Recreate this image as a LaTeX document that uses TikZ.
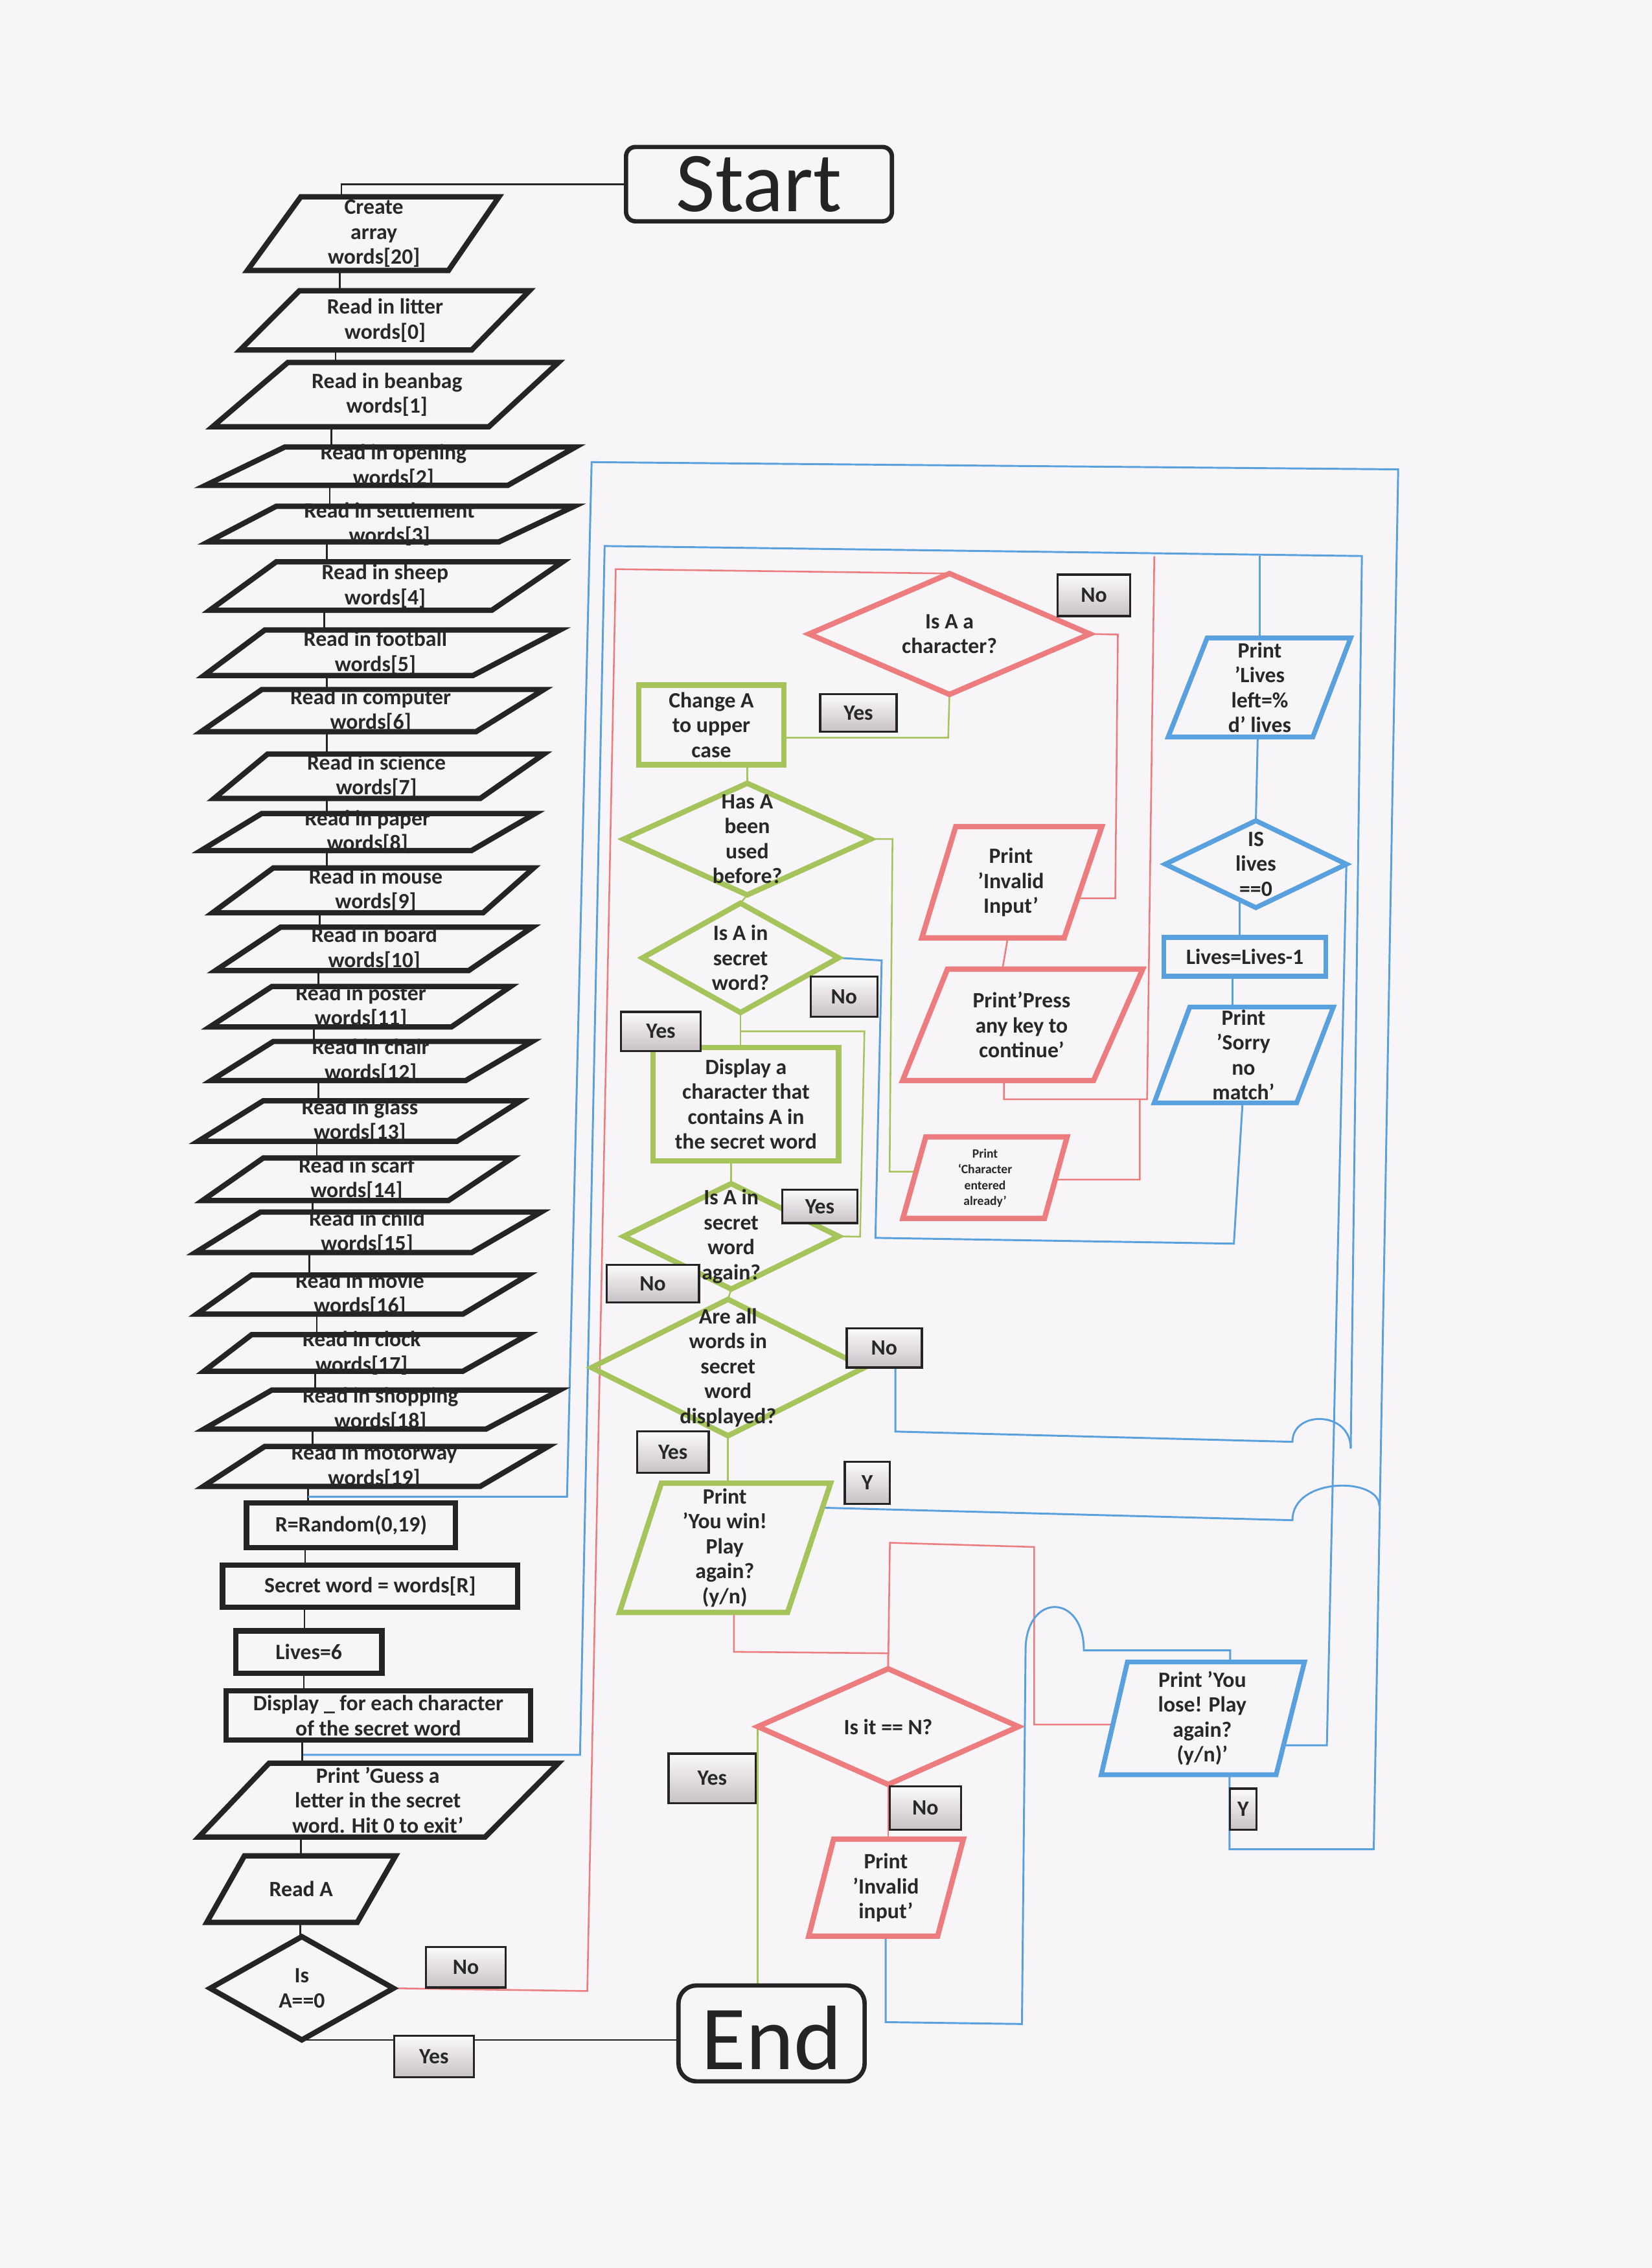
\documentclass[tikz,border=0pt]{standalone}
\usepackage{fontspec}
\setmainfont{Carlito}
\usetikzlibrary{shapes.geometric,calc}
\pgfdeclarelayer{paperl}
\pgfdeclarelayer{bg}
\pgfsetlayers{paperl,bg,main}
\definecolor{paper}{RGB}{247,245,247}
\definecolor{ink}{RGB}{36,36,36}
\definecolor{txtc}{RGB}{40,40,40}
\definecolor{rd}{RGB}{236,124,126}
\definecolor{gr}{RGB}{166,196,92}
\definecolor{bl}{RGB}{88,160,222}
\definecolor{lbtop}{RGB}{252,250,251}
\definecolor{lbbot}{RGB}{200,193,197}
\newcommand\UU{0.02cm}
\tikzset{
  blkshape/.style={draw=ink, line width=2.1pt},
  redshape/.style={draw=rd, line width=2.1pt},
  grnshape/.style={draw=gr, line width=2.1pt},
  blushape/.style={draw=bl, line width=1.9pt},
  blkline/.style={draw=ink, line width=0.7pt},
  redline/.style={draw=rd, line width=0.65pt},
  grnline/.style={draw=gr, line width=0.65pt},
  bluline/.style={draw=bl, line width=0.75pt},
  txt/.style={font=\fontsize{8.6}{9.8}\selectfont\bfseries, text=txtc, align=center, inner sep=0pt},
  anch/.style={inner sep=0pt, outer sep=0pt},
  lblbox/.style={draw=ink, line width=0.85pt, top color=lbtop, bottom color=lbbot,
    font=\fontsize{8.6}{9.8}\selectfont\bfseries, text=txtc, inner sep=0pt, outer sep=0pt},
  termbox/.style={draw=ink, line width=1.7pt, inner sep=0pt, outer sep=0pt}
}
% parallelogram: name, style, xTL, xTR, yT, xBL, xBR, yB, text
\newcommand\pgm[9]{%
  \draw[#2] (#3,#5) -- (#4,#5) -- (#7,#8) -- (#6,#8) -- cycle;
  \coordinate (#1-tl) at (#3,#5);
  \coordinate (#1-tr) at (#4,#5);
  \coordinate (#1-bl) at (#6,#8);
  \coordinate (#1-br) at (#7,#8);
  \node[anch, minimum width={(#4-#6)*\UU}, minimum height={(#8-#5)*\UU}] (#1) at ({(#4+#6)/2},{(#5+#8)/2}) {};
  \node[txt] (#1-t) at ({(#3+#4+#6+#7)/4},{(#5+#8)/2}) {#9};%
}
% rectangle: name, style, x1, x2, y1, y2, text
\newcommand\rbx[7]{%
  \node[#2, rectangle, anch, minimum width={(#4-#3)*\UU}, minimum height={(#6-#5)*\UU}] (#1) at ({(#3+#4)/2},{(#5+#6)/2}) {};
  \node[txt] (#1-t) at (#1.center) {#7};%
}
% diamond: name, style, xL, xR, yT, yB, text
\newcommand\dmd[7]{%
  \node[#2, diamond, anch, minimum width={(#4-#3)*\UU}, minimum height={(#6-#5)*\UU}] (#1) at ({(#3+#4)/2},{(#5+#6)/2}) {};
  \node[txt] (#1-t) at (#1.center) {#7};%
}
% label box: name, x1, x2, y1, y2, text
\newcommand\lbl[6]{%
  \node[lblbox, minimum width={(#3-#2)*\UU}, minimum height={(#5-#4)*\UU}] (#1) at ({(#2+#3)/2},{(#4+#5)/2}) {#6};%
}
\begin{document}
\begin{tikzpicture}[x=0.02cm, y=-0.02cm]
\begin{pgfonlayer}{paperl}
  \fill[paper] (0,0) rectangle (1142,1568);
\end{pgfonlayer}
\path[use as bounding box] (0,0) rectangle (1142,1568);

% ---------- terminals ----------
\node[termbox, rounded corners=0.13cm, minimum width={(616.6-432.8)*\UU}, minimum height={(153-101.6)*\UU}] (start) at (524.7,127.3) {};
\node[font=\fontsize{33.5}{33.5}\selectfont, text=ink, inner sep=0pt] (start-t) at (start.center) {Start};
\node[termbox, rounded corners=0.25cm, minimum width={(597.7-469)*\UU}, minimum height={(1438.9-1372.6)*\UU}] (end) at (533.4,1405.8) {};
\node[font=\fontsize{36}{36}\selectfont, text=ink, inner sep=0pt] (end-t) at ($(end.center)+(0,3.2)$) {End};

% ---------- left column ----------
\pgm{ca}{blkshape}{208}{345}{136}{171}{310}{187}{Create\\array\\words[20]}
\pgm{w0}{blkshape}{207}{366}{201}{166}{326}{242}{Read in litter\\words[0]}
\pgm{w1}{blkshape}{199}{386}{250.6}{147}{338}{295}{Read in beanbag\\words[1]}
\pgm{w2}{blkshape}{197}{398}{309}{142}{351}{335.6}{Read in opening\\words[2]}
\pgm{w3}{blkshape}{191}{397}{350}{144}{345}{374.6}{Read in settlement\\words[3]}
\pgm{w4}{blkshape}{191}{389}{388.4}{145}{340}{421.9}{Read in sheep\\words[4]}
\pgm{w5}{blkshape}{183}{387}{435.6}{141}{327}{467}{Read in football\\words[5]}
\pgm{w6}{blkshape}{181}{376}{476.7}{139}{329}{505.9}{Read in computer\\words[6]}
\pgm{w7}{blkshape}{185}{376}{521.3}{148}{332}{552}{Read in science\\words[7]}
\pgm{w8}{blkshape}{181}{370}{562.4}{139}{326}{588}{Read in paper\\words[8]}
\pgm{w9}{blkshape}{189}{369}{600}{147}{334}{631}{Read in mouse\\words[9]}
\pgm{w10}{blkshape}{194}{368}{641}{149}{324}{671}{Read in board\\words[10]}
\pgm{w11}{blkshape}{188}{353}{682}{145}{312}{710}{Read in poster\\words[11]}
\pgm{w12}{blkshape}{189}{368}{720}{146}{322}{747}{Read in chair\\words[12]}
\pgm{w13}{blkshape}{182}{360}{761}{137}{316}{789}{Read in glass\\words[13]}
\pgm{w14}{blkshape}{182}{354}{800.6}{140}{310}{830}{Read in scarf\\words[14]}
\pgm{w15}{blkshape}{180}{374}{838}{135}{326}{866}{Read in child\\words[15]}
\pgm{w16}{blkshape}{174}{365}{881.5}{136}{320}{908.5}{Read in movie\\words[16]}
\pgm{w17}{blkshape}{174}{365}{922.7}{141}{320}{948}{Read in clock\\words[17]}
\pgm{w18}{blkshape}{188}{387}{961}{141}{336}{988}{Read in shopping\\words[18]}
\pgm{w19}{blkshape}{183}{379}{1000}{140.6}{332}{1027.6}{Read in motorway\\words[19]}
\rbx{rnd}{blkshape}{170.4}{315}{1039}{1070}{R=Random(0,19)}
\rbx{sec}{blkshape}{153.8}{358}{1082}{1111}{Secret word = words[R]}
\rbx{liv}{blkshape}{163}{264}{1127.5}{1156.7}{Lives=6}
\rbx{dsp}{blkshape}{156.3}{366.8}{1169}{1203}{Display \_ for each character\\of the secret word}
\pgm{gss}{blkshape}{186}{386}{1219}{137.4}{335.4}{1270}{Print ’Guess a\\letter in the secret\\word. Hit 0 to exit’}
\pgm{rda}{blkshape}{169}{273.5}{1283}{143}{247}{1329}{Read A}
\dmd{isz}{blkshape}{145.3}{272}{1338.9}{1410.3}{Is\\A==0}

% ---------- green ----------
\rbx{chg}{grnshape}{441.6}{541.9}{473.6}{528.7}{Change A\\to upper\\case}
\dmd{has}{grnshape}{431.2}{602}{541.5}{618.7}{Has A\\been\\used\\before?}
\dmd{isa}{grnshape}{444.2}{579.7}{624.4}{700}{Is A in\\secret\\word?}
\rbx{dch}{grnshape}{451.6}{579.8}{724.1}{802.6}{Display a\\character that\\contains A in\\the secret word}
\dmd{iag}{grnshape}{431.2}{579.8}{818.3}{891.2}{Is A in\\secret\\word\\again?}
\dmd{all}{grnshape}{409}{597.6}{898.3}{992.6}{Are all\\words in\\secret\\word\\displayed?}
\pgm{win}{grnshape}{457.2}{574.2}{1025.4}{428.3}{544.5}{1114.7}{Print\\’You win!\\Play\\again?\\(y/n)}

% ---------- red ----------
\dmd{isc}{redshape}{559.3}{753.5}{396.5}{480.1}{Is A a\\character?}
\pgm{inv}{redshape}{660.7}{761.7}{571.5}{637.3}{735.7}{648.4}{Print\\’Invalid\\Input’}
\pgm{prs}{redshape}{655}{790}{670}{624}{756}{747}{Print’Press\\any key to\\continue’}
\pgm{cea}{redshape}{640}{737.7}{786}{624.2}{722.1}{842.3}{}
\node[txt, font=\fontsize{5}{6.2}\selectfont\bfseries] (cea-t2) at (681,814.5) {Print\\‘Character\\entered\\already’};
\dmd{isn}{redshape}{523.9}{704.1}{1153.7}{1233.7}{Is it == N?}
\pgm{inn}{redshape}{576.3}{666}{1271.5}{559.1}{648.2}{1338.6}{Print\\’Invalid\\input’}

% ---------- blue ----------
\pgm{llf}{blushape}{834.5}{933.7}{441.1}{807.6}{907.6}{509.5}{Print\\’Lives\\left=\%\\d’ lives}
\dmd{isl}{blushape}{805.6}{930.8}{567.4}{627.5}{IS\\lives\\==0}
\rbx{dec}{blushape}{804.6}{916.6}{648}{675}{Lives=Lives-1}
\pgm{sry}{blushape}{822.5}{921.8}{696.2}{797.9}{896.4}{762.5}{Print\\’Sorry\\no\\match’}
\pgm{los}{blushape}{779.4}{901.8}{1149}{761.3}{882.2}{1227}{Print ’You\\lose! Play\\again?\\(y/n)’}

\coordinate (j1) at (213,1034.7);
\coordinate (j2) at (209.7,1213.2);
\path ($(isl.south)!0.18!(isl.west)$) coordinate (isl-b);

% ---------- connectors ----------
\begin{pgfonlayer}{bg}
  % black
  \draw[blkline] (start.west) -| (ca.north -| 236,0);
  \foreach \a/\b/\x in {ca/w0/235,w0/w1/232,w1/w2/229,w2/w3/228,w3/w4/226,w4/w5/224,w5/w6/226,w6/w7/226,w7/w8/226,w8/w9/226,w9/w10/221,w10/w11/220,w11/w12/217,w12/w13/220,w13/w14/219,w14/w15/216,w15/w16/214,w16/w17/219,w17/w18/218,w18/w19/216,w19/rnd/213,rnd/sec/211,sec/liv/210.5,liv/dsp/210,dsp/gss/209,gss/rda/208,rda/isz/207.5}
    \draw[blkline] (\a.south -| \x,0) -- (\b.north -| \x,0);
  \draw[blkline] (isz.south) -- (isz.south -| end.west);

  % red
  \draw[redline] (isz.east) -- (406,1376.5) -- (425.7,393.5) -- (isc.north);
  \draw[redline] (isc.east) -- (772.8,438.7) -- (771,621) -- ($(inv-tr)!0.644!(inv-br)$);
  \draw[redline] (inv.south -| 696.7,0) -- (prs.north -| 693,0);
  \draw[redline] (prs.south -| 694,0) -- (694,760) -- (793,760) -- (798,384.5);
  \draw[redline] ($(cea-tr)!0.524!(cea-br)$) -- (788,815.5) -- (788,760);
  \draw[redline] (win.south -| 507.4,0) -- (507.4,1142) -- (isn.north |- 0,1143) -- (isn.north);
  \draw[redline] ($(los-tl)!0.555!(los-bl)$) -- (715,1192.3) -- (715,1069.5) -- (615.2,1066.6) -- (isn.north);
  \draw[redline] (isn.south) -- (isn.south |- inn.north);

  % green
  \draw[grnline] (isc.south) -- (655.5,510) -- (chg.east |- 0,510);
  \draw[grnline] (has.north |- chg.south) -- (has.north);
  \draw[grnline] (has.south) -- (isa.north);
  \draw[grnline] (has.east) -- (617,580) -- (615,810) -- ($(cea-tl)!0.426!(cea-bl)$);
  \draw[grnline] (isa.south) -- (isa.south |- dch.north);
  \draw[grnline] (iag.east) -- (594.6,855) -- (597.6,713) -- (isa.south |- 0,713);
  \draw[grnline] (iag.north |- dch.south) -- (iag.north);
  \draw[grnline] (iag.south) -- (all.north);
  \draw[grnline] (all.south) -- (all.south |- win.north);
  \draw[grnline] (isn.west) -- (isn.west |- end.north);

  % blue
  \draw[bluline] (j1) -- (392,1034.7) -- (409,319.5) -- (966.6,324.5) -- (949.7,1278.5) -- (850,1278.5) -- (los.south -| 850,0);
  \draw[bluline] (j2) -- (401,1213.2) -- (418,377.5) -- (941.5,384.4) -- (933.8,1001.5);
  \draw[bluline] (llf.north -| 871,0) -- (871,384.2);
  \draw[bluline] (llf.south -| 869.5,0) -- (isl.north);
  \draw[bluline] (isl-b) -- (isl-b |- dec.north);
  \draw[bluline] (dec.south -| 852,0) -- (sry.north -| 852,0);
  \draw[bluline] (sry.south -| 859,0) -- (853,859.8) -- (605.2,855.8) -- (609.5,664) -- (isa.east);
  \draw[bluline] (isl.east) -- (917.3,1206.6) -- ($(los-tr)!0.738!(los-br)$);
  \draw[bluline] (all.east) -- (619,945) -- (619,989.7) -- (893.5,996.8)
      .. controls (893.5,975) and (933.8,975) .. (933.8,1001.5);
  \draw[bluline] ($(win-tr)!0.19!(win-br)$) -- (893.5,1051)
      .. controls (893.5,1021) and (953.5,1021) .. (953.5,1041);
  \draw[bluline] (inn.south -| 612.3,0) -- (612.3,1398) -- (706.5,1399.3) -- (709,1141)
      .. controls (709,1101) and (749.3,1101) .. (749.3,1141) -- (850.4,1141) -- (los.north -| 850.4,0);
\end{pgfonlayer}

% ---------- labels ----------
\lbl{lno1}{294.5}{349.5}{1346}{1374}{No}
\lbl{lyes1}{272.5}{327.5}{1407.4}{1436}{Yes}
\lbl{lno2}{731}{781.4}{397.3}{425.9}{No}
\lbl{lyes2}{567}{619.9}{480}{505.8}{Yes}
\lbl{lno3}{560.4}{606.5}{675.2}{703}{No}
\lbl{lyes3}{429.4}{484.3}{699.5}{726.6}{Yes}
\lbl{lyes4}{540.8}{592.7}{822.6}{845.5}{Yes}
\lbl{lno4}{419.3}{483.2}{874.6}{900.3}{No}
\lbl{lno5}{585.3}{637.3}{918.3}{945.4}{No}
\lbl{lyes5}{440.5}{489.9}{989.7}{1018.3}{Yes}
\lbl{ly6}{584}{615}{1010.5}{1039.6}{Y}
\lbl{lyes7}{462.2}{522.5}{1212.3}{1246.5}{Yes}
\lbl{lno7}{615}{664.3}{1235.1}{1265}{No}
\lbl{ly8}{850.4}{868.5}{1236.5}{1265.1}{Y}
\end{tikzpicture}
\end{document}
